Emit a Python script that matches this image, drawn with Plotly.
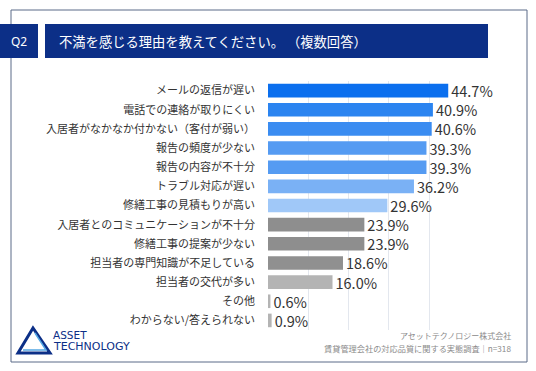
import plotly.graph_objects as go

categories = [
    "メールの返信が遅い",
    "電話での連絡が取りにくい",
    "入居者がなかなか付かない（客付が弱い）",
    "報告の頻度が少ない",
    "報告の内容が不十分",
    "トラブル対応が遅い",
    "修繕工事の見積もりが高い",
    "入居者とのコミュニケーションが不十分",
    "修繕工事の提案が少ない",
    "担当者の専門知識が不足している",
    "担当者の交代が多い",
    "その他",
    "わからない/答えられない",
]
values = [44.7, 40.9, 40.6, 39.3, 39.3, 36.2, 29.6, 23.9, 23.9, 18.6, 16.0, 0.6, 0.9]
bar_colors = [
    "#0b6fee", "#2b84f0", "#3a8cf1", "#559bf2", "#559bf2", "#7ab1f5", "#a0c8f8",
    "#8e8e8e", "#8e8e8e", "#909090", "#b4b4b4", "#b4b4b4", "#b4b4b4",
]
value_labels = [f"{v:.1f}%" for v in values]
title_text = "不満を感じる理由を教えてください。 （複数回答）"
q_label = "Q2"
source_lines = ["アセットテクノロジー株式会社", "賃貸管理会社の対応品質に関する実態調査｜n=318"]

W, H = 536, 371
L, R, T, B = 268, 66, 81, 41
PW, PH = W - L - R, H - T - B

def px(x):
    return (x - L) / PW

def py(y):
    return (H - B - y) / PH

FONT = "Noto Sans CJK JP"
NAVY = "#0c2f87"

fig = go.Figure(go.Bar(
    x=values, y=categories, orientation="h",
    marker=dict(color=bar_colors, line=dict(width=0)),
    text=value_labels, textposition="outside", cliponaxis=False,
    constraintext="none",
    textfont=dict(size=14.5, color="#333333", family=FONT),
    hoverinfo="skip",
))

shapes = []
shapes.append(dict(type="rect", xref="paper", yref="paper",
                   x0=px(11), x1=px(527), y0=py(362), y1=py(10),
                   line=dict(color="#5b6b88", width=1), fillcolor="rgba(0,0,0,0)", layer="below"))
shapes.append(dict(type="rect", xref="paper", yref="paper",
                   x0=px(0), x1=px(38), y0=py(58), y1=py(24),
                   line=dict(width=0), fillcolor=NAVY, layer="above"))
shapes.append(dict(type="rect", xref="paper", yref="paper",
                   x0=px(45), x1=px(488), y0=py(58), y1=py(24),
                   line=dict(width=0), fillcolor=NAVY, layer="above"))

def tri(p1, p2, p3):
    pts = [p1, p2, p3]
    return "M " + " L ".join(f"{px(a)},{py(b)}" for a, b in pts) + " Z"

shapes.append(dict(type="path", xref="paper", yref="paper",
                   path=tri((18, 353), (33, 328), (50, 353)),
                   line=dict(color=NAVY, width=3), fillcolor="rgba(0,0,0,0)"))
shapes.append(dict(type="path", xref="paper", yref="paper",
                   path=f"M {px(35)},{py(333)} L {px(46)},{py(350)} L {px(23)},{py(350)}",
                   line=dict(color="#55a8e4", width=1.5)))

annotations = [
    dict(text=q_label, xref="paper", yref="paper", x=px(19), y=py(41),
         xanchor="center", yanchor="middle", showarrow=False,
         font=dict(size=12, color="white", family="Noto Sans")),
    dict(text=title_text, xref="paper", yref="paper", x=px(57), y=py(41),
         xanchor="left", yanchor="middle", showarrow=False,
         font=dict(size=13.3, color="white", family=FONT)),
    dict(text=source_lines[0], xref="paper", yref="paper", x=px(513), y=py(335.5),
         xanchor="right", yanchor="middle", showarrow=False,
         font=dict(size=8, color="#8a8a8a", family=FONT)),
    dict(text=source_lines[1], xref="paper", yref="paper", x=px(513), y=py(348),
         xanchor="right", yanchor="middle", showarrow=False,
         font=dict(size=8.2, color="#8a8a8a", family=FONT)),
    dict(text="ASSET", xref="paper", yref="paper", x=px(51), y=py(335),
         xanchor="left", yanchor="middle", showarrow=False,
         font=dict(size=10.5, color=NAVY, family="DejaVu Sans")),
    dict(text="TECHNOLOGY", xref="paper", yref="paper", x=px(51), y=py(346),
         xanchor="left", yanchor="middle", showarrow=False,
         font=dict(size=11, color=NAVY, family="DejaVu Sans")),
]

fig.update_layout(
    width=W, height=H, autosize=False,
    margin=dict(l=L, r=R, t=T, b=B, pad=0),
    paper_bgcolor="white", plot_bgcolor="white",
    bargap=0.29, showlegend=False,
    shapes=shapes, annotations=annotations,
    font=dict(family=FONT, color="#333333"),
)
fig.update_xaxes(range=[0, 50.1], dtick=10, showgrid=True, gridcolor="#e3e7ee", gridwidth=1,
                 zeroline=False, showticklabels=False, ticks="", showline=False, fixedrange=True)
fig.update_yaxes(autorange="reversed", ticks="", showline=False, showgrid=False,
                 tickfont=dict(size=11, color="#333333", family=FONT),
                 ticklabelstandoff=12, fixedrange=True)

fig.write_html("out.html", config={"displayModeBar": False},
               post_script="document.body.style.margin='0';")
